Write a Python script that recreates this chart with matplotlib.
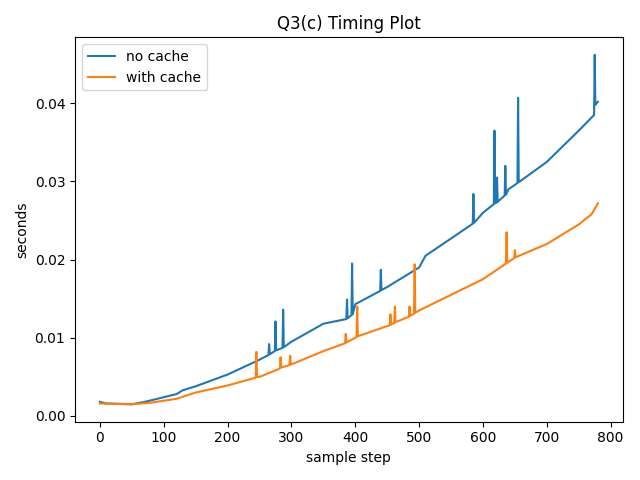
import matplotlib
matplotlib.use("Agg")
import matplotlib.pyplot as plt

# no cache timings (sample step, seconds)
steps_nc = [0, 10, 50, 70, 100, 120, 130, 150, 200, 250, 264, 265, 266, 274, 275, 276,
            286, 287, 288, 300, 350, 386, 387, 388, 394, 395, 396, 400, 439, 440, 441,
            450, 500, 510, 550, 584, 585, 586, 600, 617, 618, 619, 621, 622, 623,
            634, 635, 636, 640, 654, 655, 656, 700, 750, 774, 775, 776, 780]
secs_nc = [0.0018, 0.0016, 0.0015, 0.0018, 0.0024, 0.0028, 0.0033, 0.0038, 0.0053,
           0.0072, 0.0078, 0.0092, 0.0079, 0.0083, 0.0121, 0.0084, 0.0087, 0.0136,
           0.0088, 0.0095, 0.0118, 0.0124, 0.0149, 0.0125, 0.0129, 0.0195, 0.0130,
           0.0143, 0.0160, 0.0187, 0.0161, 0.0165, 0.0190, 0.0205, 0.0227, 0.0246,
           0.0284, 0.0247, 0.0260, 0.0271, 0.0365, 0.0272, 0.0273, 0.0305, 0.0274,
           0.0282, 0.0320, 0.0283, 0.0290, 0.0298, 0.0407, 0.0299, 0.0325, 0.0365,
           0.0385, 0.0462, 0.0398, 0.0402]

# with cache timings
steps_wc = [0, 50, 80, 120, 150, 200, 244, 245, 246, 250, 280, 282, 283, 284, 297, 298,
            299, 300, 350, 384, 385, 386, 400, 402, 403, 404, 450, 454, 455, 456, 461,
            462, 463, 484, 485, 486, 492, 493, 494, 500, 550, 600, 636, 637, 638, 649,
            650, 651, 700, 750, 770, 780]
secs_wc = [0.0016, 0.0015, 0.0017, 0.0022, 0.0030, 0.0039, 0.0049, 0.0082, 0.0050,
           0.0050, 0.0060, 0.0061, 0.0075, 0.0062, 0.0065, 0.0077, 0.0066, 0.0066,
           0.0083, 0.0093, 0.0105, 0.0094, 0.0100, 0.0101, 0.0140, 0.0102, 0.0115,
           0.0116, 0.0130, 0.0117, 0.0119, 0.0140, 0.0120, 0.0127, 0.0140, 0.0128,
           0.0131, 0.0194, 0.0132, 0.0135, 0.0155, 0.0175, 0.0195, 0.0235, 0.0196,
           0.0202, 0.0212, 0.0203, 0.0220, 0.0245, 0.0258, 0.0272]

fig, ax = plt.subplots(figsize=(6.4, 4.8), dpi=100)
ax.plot(steps_nc, secs_nc, label="no cache")
ax.plot(steps_wc, secs_wc, label="with cache")
ax.set_title("Q3(c) Timing Plot")
ax.set_xlabel("sample step")
ax.set_ylabel("seconds")
ax.legend(loc="upper left")
fig.tight_layout()
fig.savefig("out.png")
